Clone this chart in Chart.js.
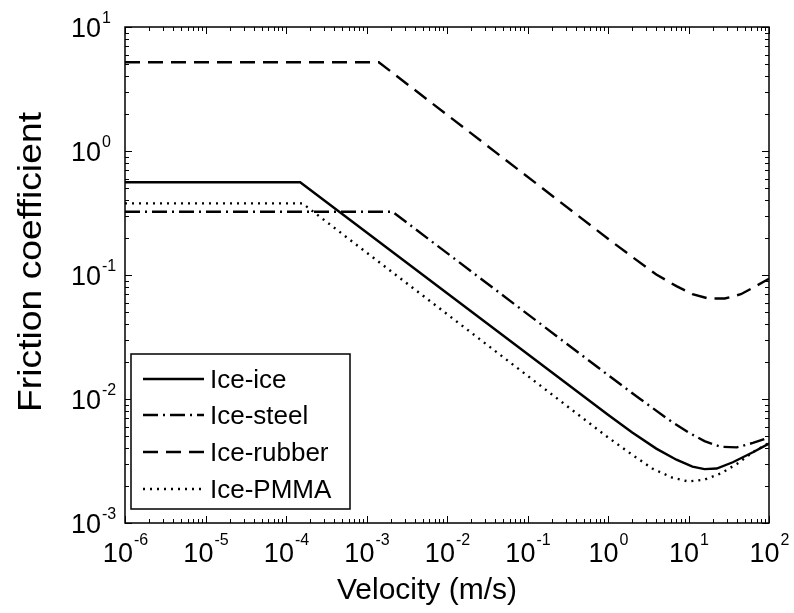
<!DOCTYPE html>
<html>
<head>
<meta charset="utf-8">
<script src="https://cdn.jsdelivr.net/npm/chart.js@4.4.1/dist/chart.umd.min.js"></script>
<style>
  html, body { margin: 0; padding: 0; background: #fff; }
  #wrap { width: 794px; height: 613px; }
</style>
</head>
<body>
<div id="wrap"><canvas id="frictionChart" width="794" height="613"></canvas></div>
<script>
// values (velocity in m/s, friction coefficient)
const iceIceV   = [1e-6, 1.5e-4, 1, 2, 3.98, 7.08, 11.2, 15.8, 22.4, 35.5, 63.1, 100];
const iceIceMu  = [0.56, 0.56, 0.00746, 0.00537, 0.00398, 0.00324, 0.00285, 0.00272, 0.00275, 0.00309, 0.00372, 0.00437];

const iceSteelV  = [1e-6, 2.1e-3, 1, 2.51, 5.62, 10, 15.8, 25.1, 39.8, 63.1, 100];
const iceSteelMu = [0.324, 0.324, 0.0156, 0.0100, 0.00684, 0.00537, 0.00457, 0.00412, 0.00407, 0.00442, 0.0049];

const iceRubberV  = [1e-6, 1.42e-3, 1, 2, 3.98, 7.08, 11.2, 17.8, 28.2, 44.7, 70.8, 100];
const iceRubberMu = [5.2, 5.2, 0.196, 0.140, 0.101, 0.0813, 0.070, 0.0646, 0.0646, 0.070, 0.0822, 0.0933];

const icePmmaV  = [1e-6, 1.6e-4, 1, 2, 3.55, 6.31, 10, 15.8, 25.1, 39.8, 63.1, 100];
const icePmmaMu = [0.378, 0.378, 0.0049, 0.00355, 0.00275, 0.00232, 0.00216, 0.00224, 0.00251, 0.00299, 0.00372, 0.00442];

const seriesNames = ['Ice-ice', 'Ice-steel', 'Ice-rubber', 'Ice-PMMA'];
const xTickExp = ['-6', '-5', '-4', '-3', '-2', '-1', '0', '1', '2'];
const yTickExp = ['-3', '-2', '-1', '0', '1'];

const FONT = '"Liberation Sans", Arial, sans-serif';

function toPoints(xs, ys) {
    return xs.map((x, i) => ({ x: x, y: ys[i] }));
}

const matlabAxes = {
    id: 'matlabAxes',
    afterDraw(chart) {
        const c = chart.ctx;
        const a = chart.chartArea;
        const xs = chart.scales.x;
        const ys = chart.scales.y;
        c.save();
        c.strokeStyle = '#000';
        c.fillStyle = '#000';

        // frame
        c.lineWidth = 1.5;
        c.strokeRect(a.left, a.top, a.right - a.left, a.bottom - a.top);

        // inward ticks, major on decades, minor on 2..9
        c.lineWidth = 1;
        c.beginPath();
        xTickExp.forEach(e => {
            const d = Number(e);
            for (let m = 1; m <= 9; m++) {
                const v = m * Math.pow(10, d);
                if (v > 100 * 1.0001) break;
                const px = Math.round(xs.getPixelForValue(v)) + 0.5;
                const len = m === 1 ? 7 : 4;
                c.moveTo(px, a.bottom);
                c.lineTo(px, a.bottom - len);
                c.moveTo(px, a.top);
                c.lineTo(px, a.top + len);
            }
        });
        yTickExp.forEach(e => {
            const d = Number(e);
            for (let m = 1; m <= 9; m++) {
                const v = m * Math.pow(10, d);
                if (v > 10 * 1.0001) break;
                const py = Math.round(ys.getPixelForValue(v)) + 0.5;
                const len = m === 1 ? 7 : 4;
                c.moveTo(a.left, py);
                c.lineTo(a.left + len, py);
                c.moveTo(a.right, py);
                c.lineTo(a.right - len, py);
            }
        });
        c.stroke();

        // tick labels: 10 with superscript exponent
        const baseFont = '27px ' + FONT;
        const expFont = '16px ' + FONT;
        c.textBaseline = 'alphabetic';
        c.textAlign = 'left';
        xTickExp.forEach(e => {
            const px = xs.getPixelForValue(Math.pow(10, Number(e)));
            c.font = baseFont;
            const w10 = c.measureText('10').width;
            c.font = expFont;
            const we = c.measureText(e).width;
            const x0 = px - (w10 + we) / 2;
            c.font = baseFont;
            c.fillText('10', x0, 562);
            c.font = expFont;
            c.fillText(e, x0 + w10 + 1, 545);
        });
        yTickExp.forEach(e => {
            const py = ys.getPixelForValue(Math.pow(10, Number(e)));
            c.font = baseFont;
            const w10 = c.measureText('10').width;
            c.fillText('10', 71, py + 9.5);
            c.font = expFont;
            c.fillText(e, 71 + w10 + 1, py - 4);
        });

        // axis titles
        c.font = '30px ' + FONT;
        c.textAlign = 'center';
        c.fillText('Velocity (m/s)', 427, 599);
        c.save();
        c.translate(41, 262);
        c.rotate(-Math.PI / 2);
        c.font = '33px ' + FONT;
        const tw = c.measureText('Friction coefficient').width;
        c.scale(300 / tw, 1);
        c.fillText('Friction coefficient', 0, 0);
        c.restore();

        // legend
        const box = { l: 131, t: 354, r: 350, b: 509 };
        c.fillStyle = '#fff';
        c.fillRect(box.l, box.t, box.r - box.l, box.b - box.t);
        c.strokeStyle = '#000';
        c.lineWidth = 1.5;
        c.strokeRect(box.l, box.t, box.r - box.l, box.b - box.t);
        const rowY = [379, 415, 452, 489];
        chart.data.datasets.forEach((ds, i) => {
            c.beginPath();
            c.setLineDash(ds.borderDash || []);
            c.lineWidth = ds.borderWidth;
            c.moveTo(143, rowY[i]);
            c.lineTo(204, rowY[i]);
            c.stroke();
            c.setLineDash([]);
            c.fillStyle = '#000';
            c.font = '26px ' + FONT;
            c.textAlign = 'left';
            c.fillText(ds.label, 210, rowY[i] + 9);
        });
        c.restore();
    }
};

const ctx = document.getElementById('frictionChart').getContext('2d');
const chart = new Chart(ctx, {
    type: 'scatter',
    data: {
        datasets: [
            { label: seriesNames[0], data: toPoints(iceIceV, iceIceMu), borderDash: [] },
            { label: seriesNames[1], data: toPoints(iceSteelV, iceSteelMu), borderDash: [15, 5, 2, 5] },
            { label: seriesNames[2], data: toPoints(iceRubberV, iceRubberMu), borderDash: [15, 8] },
            { label: seriesNames[3], data: toPoints(icePmmaV, icePmmaMu), borderDash: [2, 5] }
        ].map(ds => Object.assign(ds, {
            showLine: true,
            borderColor: '#000',
            backgroundColor: '#000',
            borderWidth: 2.4,
            pointRadius: 0,
            tension: 0,
            fill: false
        }))
    },
    options: {
        responsive: false,
        animation: false,
        layout: { padding: { left: 125, top: 27, right: 25, bottom: 90 } },
        scales: {
            x: { type: 'logarithmic', min: 1e-6, max: 1e2, display: false },
            y: { type: 'logarithmic', min: 1e-3, max: 1e1, display: false }
        },
        plugins: {
            legend: { display: false },
            tooltip: { enabled: false }
        }
    },
    plugins: [matlabAxes]
});
</script>
</body>
</html>
